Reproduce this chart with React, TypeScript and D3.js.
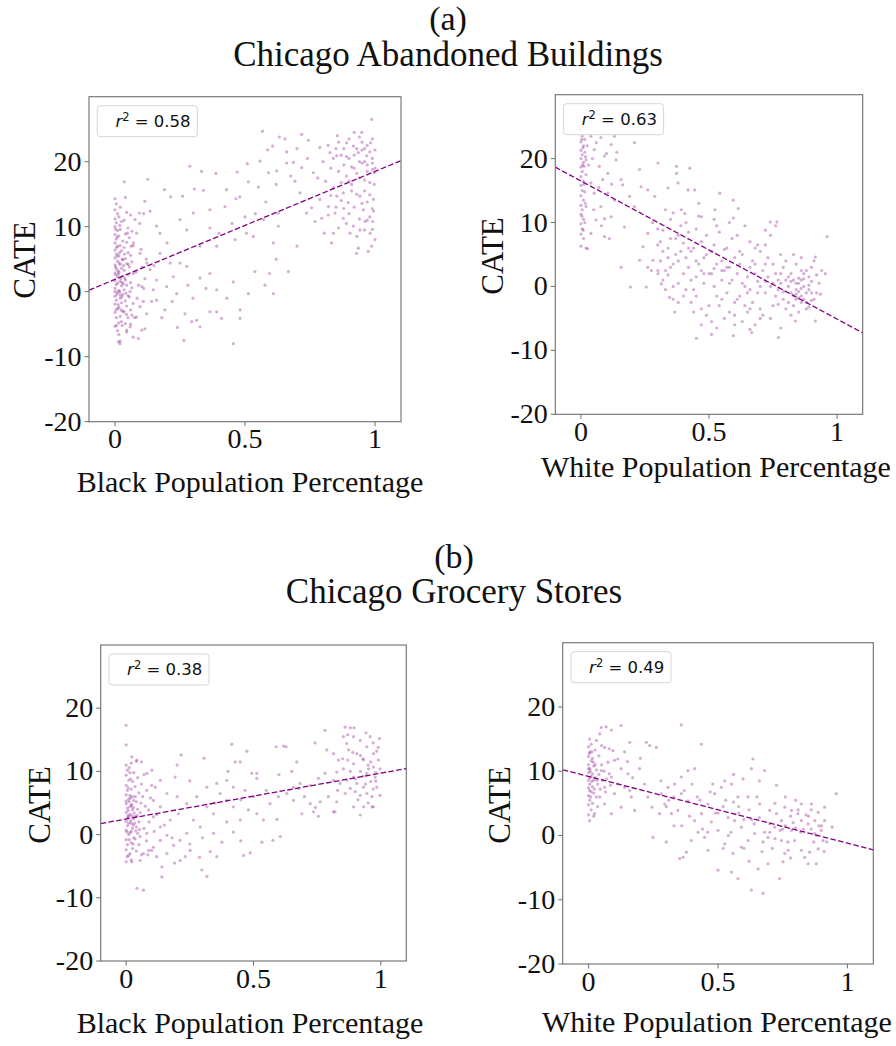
import React from "react";
import * as d3 from "d3";

// ---------- data ----------
const xTicks = [0, 0.5, 1];
const xTickLabels = ["0", "0.5", "1"];
const yTicks = [-20, -10, 0, 10, 20];
const yTickLabels = ["-20", "-10", "0", "10", "20"];
const xDomain = [-0.1, 1.1];
const yDomain = [-20, 30];

const groupLabels = ["(a)", "(b)"];
const groupTitles = ["Chicago Abandoned Buildings", "Chicago Grocery Stores"];
const xAxisLabels = [
  "Black Population Percentage",
  "White Population Percentage",
  "Black Population Percentage",
  "White Population Percentage",
];
const yAxisLabel = "CATE";
const r2Values = ["0.58", "0.63", "0.38", "0.49"];
const fitIntercepts = [1.9, 16.5, 2.47, 9.19];
const fitSlopes = [16.6, -21.6, 7.25, -10.38];

// Chicago Abandoned Buildings vs Black population share
const abandonedBlack = [
  [0.567,24.7],[0.632,23.8],[0.654,23.5],[0.718,24.2],[0.744,23.3],[0.987,26.5],[0.949,24.5],[0.855,24.0],[0.606,22.4],[0.587,21.8],
  [0.288,19.3],[0.333,18.5],[0.388,18.2],[0.47,18.4],[0.509,19.7],[0.558,20.1],[0.036,16.9],[0.126,17.3],[0.19,15.7],[0.214,14.6],
  [0.305,15.8],[0.34,15.6],[0.429,15.7],[0.465,14.3],[0.48,14.6],[0.513,16.9],[0.551,16.1],[0.59,18.3],[0.622,18.6],[0.66,19.8],
  [0.676,17.8],[0.686,19.9],[0.692,17.0],[0.718,19.1],[0.763,18.3],[0.788,22.2],[0.827,21.4],[0.853,20.9],[0.891,22.9],[0.917,22.4],
  [0.936,21.4],[0.968,20.9],[0.983,22.9],[0.99,19.8],[0.997,18.3],[0.997,16.5],[0.994,14.2],[0.994,12.4],[0.991,10.8],[0.981,9.0],
  [0.987,7.0],[1.0,8.0],[0.974,6.2],[0.936,6.7],[0.929,5.9],[0.904,9.0],[0.917,10.1],[0.878,11.3],[0.897,13.7],[0.84,9.0],
  [0.833,7.5],[0.805,9.0],[0.769,10.8],[0.795,11.3],[0.846,12.1],[0.821,13.1],[0.853,14.7],[0.878,15.2],[0.91,15.5],[0.942,14.7],
  [0.955,12.6],[0.962,10.8],[0.942,9.5],[0.756,12.9],[0.737,12.1],[0.788,14.2],[0.712,15.2],[0.628,12.1],[0.609,7.5],[0.628,10.1],
  [0.571,11.1],[0.532,8.5],[0.506,9.0],[0.462,8.0],[0.391,7.0],[0.365,9.8],[0.327,7.0],[0.276,9.5],[0.25,11.1],[0.173,9.0],
  [0.16,10.1],[0.115,13.9],[0.135,12.4],[0.094,12.1],[0.077,11.1],[0.301,12.1],[0.365,12.6],[0.423,13.1],[0.26,14.7],[0.538,3.1],
  [0.667,3.1],[0.594,2.8],[0.577,1.0],[0.609,-0.3],[0.481,-2.8],[0.455,1.5],[0.391,0.3],[0.365,2.8],[0.327,2.1],[0.276,3.9],
  [0.25,4.4],[0.224,2.3],[0.199,0.8],[0.192,-2.8],[0.16,-1.3],[0.147,0.3],[0.237,-0.3],[0.269,-3.4],[0.295,-4.6],[0.314,-4.4],
  [0.327,-5.4],[0.265,-7.5],[0.365,-3.1],[0.391,-3.1],[0.41,-4.1],[0.455,-8.0],[0.481,-4.1],[0.513,-0.3],[0.07,-7.0],[0.09,-7.2],
  [0.103,-5.9],[0.115,-5.7],[0.013,-7.7],[0.019,-8.0],[0.058,-5.4],[0.045,-5.9],[0.006,-5.2],[0.122,-3.4],[0.141,-1.5],[0.096,-2.3],
  [0.083,-3.9],[0.109,-1.5],[0.103,0.8],[0.16,1.8],[0.135,3.4],[0.173,5.9],[0.212,4.4],[0.122,4.4],[0.096,5.9],[0.083,9.0],[0.071,7.5],
  [0.0,14.3],[0.005,13.5],[0.0,12.6],[0.01,12.0],[0.0,11.2],[0.005,10.6],[0.0,10.0],[0.01,9.4],[0.0,8.8],[0.005,8.1],
  [0.0,7.5],[0.01,7.0],[0.0,6.4],[0.005,5.8],[0.0,5.2],[0.01,4.7],[0.0,4.1],[0.005,3.5],[0.0,2.9],[0.01,2.3],
  [0.0,1.7],[0.005,1.1],[0.0,0.5],[0.01,-0.1],[0.0,-0.7],[0.005,-1.3],[0.0,-1.9],[0.01,-2.6],[0.0,-3.2],[0.005,-4.0],
  [0.0,-5.3],[0.01,-6.0],[0.02,13.0],[0.015,11.5],[0.025,10.8],[0.02,9.6],[0.015,8.6],[0.03,7.8],[0.02,7.1],[0.025,6.3],
  [0.015,5.5],[0.03,4.9],[0.02,4.2],[0.025,3.6],[0.015,3.0],[0.03,2.4],[0.02,1.6],[0.025,0.9],[0.015,0.2],[0.03,-0.4],
  [0.02,-1.0],[0.025,-1.7],[0.015,-2.4],[0.03,-3.0],[0.02,-3.8],[0.025,-4.6],[0.015,-6.6],[0.02,-7.6],[0.04,14.5],[0.045,12.2],
  [0.035,11.0],[0.05,9.8],[0.04,8.9],[0.045,7.6],[0.035,6.8],[0.05,6.0],[0.04,5.1],[0.045,4.3],[0.035,3.3],[0.05,2.6],
  [0.04,1.8],[0.045,1.0],[0.035,0.3],[0.05,-0.6],[0.04,-1.4],[0.045,-2.2],[0.035,-3.1],[0.05,-4.0],[0.04,-4.9],[0.045,-6.2],
  [0.06,11.8],[0.065,9.3],[0.055,8.3],[0.07,7.1],[0.06,5.6],[0.065,4.6],[0.055,3.8],[0.07,2.8],[0.06,1.4],[0.065,0.6],
  [0.055,-0.8],[0.07,-1.8],[0.06,-2.8],[0.065,-3.6],[0.06,-5.0],[0.008,5.5],[0.012,3.2],[0.018,0.0],[0.022,2.0],[0.028,5.0],
  [0.01,1.3],[0.003,2.6],[0.027,-0.8],[0.012,-2.0],[0.032,1.2],[0.006,6.8],[0.02,-0.5],[0.038,2.1],[0.016,4.4],[0.042,-0.2],
  [0.08,3.0],[0.09,1.0],[0.1,6.5],[0.11,0.5],[0.085,-1.0],[0.095,10.5],[0.105,3.8],[0.115,2.0],[0.075,-4.0],[0.12,5.0],[0.11,12.0],
  [0.85,22.0],[0.87,21.0],[0.88,19.5],[0.9,20.5],[0.92,19.0],[0.93,22.0],[0.95,23.0],[0.96,20.0],[0.97,18.5],[0.98,21.5],
  [0.99,23.5],[0.94,17.5],[0.91,16.5],[0.89,17.8],[0.86,18.5],[0.84,16.0],[0.83,19.0],[0.96,15.5],[0.98,16.8],[0.99,20.5],
  [0.97,22.5],[0.95,19.8],[0.93,15.0],[0.92,13.0],[0.98,11.5],[0.96,9.5],[0.94,11.2],[0.9,12.0],[0.87,14.0],[0.99,12.8],
  [1.0,19.0],[1.0,21.8],[0.97,13.8],[0.82,22.5],[0.8,20.0],[0.78,17.5],
  [0.84,20.5],[0.86,23.0],[0.88,22.0],[0.9,23.5],[0.92,21.0],[0.94,20.0],[0.95,21.8],[0.97,19.5],[0.99,18.8],[0.96,17.2],
  [0.93,18.2],[0.91,19.2],[0.89,20.8],[0.87,16.8],[0.85,13.0],[0.83,14.8],[0.81,17.0],[0.95,13.6],[0.97,11.0],[0.99,9.6],
  [0.93,8.5],[0.89,10.5],[0.86,9.8],[0.82,11.8],[0.98,14.9],[0.96,22.0],[0.94,23.8],[0.92,24.5],[0.9,17.0],[0.88,12.8],
  [0.7,22.0],[0.74,20.5],[0.66,21.5],[0.62,16.5],[0.58,13.8],[0.54,12.0],[0.5,11.5],[0.45,10.5],[0.4,9.0],[0.2,7.5],
  [0.22,-1.5],[0.3,-1.0],[0.35,0.5],[0.43,-1.0],[0.28,1.0],[0.18,-4.0],[0.24,-5.5],[0.15,4.0],[0.62,5.0],[0.7,7.0],
  [0.0,0.0],[0.003,3.8],[0.007,-0.4],[0.013,2.7],[0.017,6.0],[0.023,-2.8],[0.027,1.4],[0.033,4.0],[0.008,8.4],[0.018,10.2],
  [0.028,-5.2],[0.004,-2.8],[0.036,5.8],[0.044,-3.5],[0.052,4.2],[0.058,0.0],[0.062,7.0],[0.048,9.0],[0.014,-4.8],[0.002,9.6],
];

// Chicago Abandoned Buildings vs White population share
const abandonedWhite = [
  [0.0,24.5],[0.005,23.5],[0.0,22.6],[0.01,22.0],[0.0,21.3],[0.005,20.6],[0.0,20.0],[0.01,19.4],[0.0,18.7],[0.005,18.0],
  [0.0,17.2],[0.01,16.5],[0.0,15.8],[0.005,15.0],[0.0,14.2],[0.01,13.5],[0.0,12.7],[0.005,12.0],[0.0,11.3],[0.01,10.5],
  [0.0,9.8],[0.005,9.0],[0.0,8.2],[0.01,7.5],[0.0,6.3],[0.015,21.0],[0.02,19.8],[0.015,23.0],[0.02,17.5],[0.015,14.8],
  [0.02,12.5],[0.015,10.0],[0.02,6.0],[0.012,18.8],[0.008,21.7],[0.018,20.3],
  [0.039,23.5],[0.078,23.3],[0.052,21.4],[0.092,20.4],[0.118,22.2],[0.131,23.5],[0.137,19.8],[0.072,18.8],[0.105,17.7],[0.039,16.2],
  [0.085,16.7],[0.157,16.7],[0.163,15.9],[0.052,14.6],[0.105,14.6],[0.131,13.5],[0.078,12.5],[0.118,10.9],[0.059,10.4],[0.039,8.3],
  [0.092,7.8],[0.026,5.9],[0.157,3.0],[0.193,-0.1],[0.255,-0.1],[0.209,22.5],[0.092,10.6],[0.111,7.5],[0.17,9.3],[0.19,14.1],
  [0.209,12.5],[0.229,18.3],[0.235,15.6],[0.261,15.1],[0.301,19.3],[0.373,18.8],[0.373,17.7],[0.425,18.5],[0.379,16.2],[0.418,15.1],
  [0.444,15.1],[0.34,15.4],[0.288,14.1],[0.542,14.6],[0.595,13.5],[0.614,12.2],[0.523,12.0],[0.595,10.7],[0.392,12.0],[0.405,11.4],
  [0.471,10.9],[0.739,10.1],[0.765,10.1],[0.961,7.8],[0.915,4.6],[0.954,2.0],[0.935,-1.2],[0.915,-5.4],[0.837,-5.4],[0.771,-8.0],
  [0.667,-7.2],[0.66,-6.7],[0.595,-7.7],[0.51,-7.5],[0.451,-8.1],[0.366,-4.0],[0.346,-1.7],[0.314,0.4],[0.261,3.0],[0.229,4.1],
  [0.242,6.2],[0.261,8.3],[0.281,4.1],[0.301,2.0],[0.275,2.5],
  [0.3,6.5],[0.31,4.0],[0.32,8.8],[0.33,2.5],[0.34,6.0],[0.35,10.5],[0.36,3.5],[0.37,7.5],[0.38,0.5],[0.39,5.5],
  [0.3,9.0],[0.32,1.0],[0.34,4.5],[0.36,11.5],[0.38,8.0],[0.4,2.0],[0.33,-0.5],[0.37,5.0],[0.35,3.0],[0.31,7.0],
  [0.39,9.5],[0.4,6.8],[0.36,0.0],[0.38,-2.5],[0.34,1.8],
  [0.41,4.5],[0.42,8.5],[0.43,1.0],[0.44,6.0],[0.45,-1.5],[0.46,3.5],[0.47,7.0],[0.48,0.5],[0.49,5.0],[0.5,-3.0],
  [0.41,10.0],[0.43,-2.5],[0.45,9.0],[0.47,2.5],[0.49,-4.5],[0.42,3.0],[0.44,-0.5],[0.46,11.0],[0.48,4.5],[0.5,2.0],
  [0.45,1.5],[0.43,5.5],[0.47,-3.5],[0.41,-0.5],[0.49,8.0],
  [0.51,5.5],[0.52,0.0],[0.53,3.5],[0.54,8.5],[0.55,-2.0],[0.56,2.5],[0.57,6.0],[0.58,-4.0],[0.59,1.0],[0.6,4.5],
  [0.51,-5.5],[0.53,9.5],[0.55,4.0],[0.57,-1.0],[0.59,7.5],[0.52,2.8],[0.54,-3.0],[0.56,5.8],[0.58,0.5],[0.6,-2.5],
  [0.55,1.0],[0.53,-1.5],[0.57,3.0],[0.6,-6.0],[0.51,2.0],
  [0.61,2.0],[0.62,-1.5],[0.63,5.0],[0.64,0.0],[0.65,-4.0],[0.66,3.0],[0.67,-2.5],[0.68,6.0],[0.69,0.8],[0.7,-3.5],
  [0.61,8.0],[0.63,-5.5],[0.65,1.5],[0.67,4.0],[0.69,-1.0],[0.62,3.5],[0.64,-3.0],[0.66,-0.5],[0.68,2.0],[0.7,5.5],
  [0.63,0.5],[0.66,7.0],[0.68,-6.0],[0.7,0.0],[0.61,-2.0],
  [0.71,2.5],[0.72,-1.0],[0.73,4.5],[0.74,0.0],[0.75,-3.0],[0.76,2.0],[0.77,-0.5],[0.78,5.0],[0.79,-2.0],[0.8,1.0],
  [0.71,-4.5],[0.73,1.5],[0.75,3.5],[0.77,-2.8],[0.79,3.0],[0.72,6.5],[0.74,-5.0],[0.76,-1.5],[0.78,0.5],[0.8,-3.5],
  [0.74,8.0],[0.76,9.5],[0.78,-6.5],[0.72,0.8],[0.8,4.0],
  [0.81,0.0],[0.82,-1.0],[0.83,1.0],[0.84,-2.0],[0.85,0.5],[0.86,-1.5],[0.87,0.0],[0.88,-2.5],[0.89,1.5],[0.9,-1.0],
  [0.81,-2.5],[0.82,2.0],[0.83,-3.0],[0.84,0.5],[0.85,-0.8],[0.86,1.0],[0.87,-2.0],[0.88,2.5],[0.89,-0.5],[0.9,0.8],
  [0.91,-2.0],[0.92,1.8],[0.84,3.5],[0.86,4.5],[0.88,-3.5],[0.9,3.0],[0.92,-1.0],[0.85,-4.0],[0.83,5.0],[0.87,2.0],
  [0.82,-4.5],[0.89,-3.2],[0.91,4.0],[0.93,0.5],[0.94,2.5],[0.86,-0.3],[0.84,-1.2],[0.85,1.3],
  [0.003,23.0],[0.007,19.0],[0.012,16.0],[0.017,13.0],[0.004,11.0],[0.009,8.8],[0.025,22.0],[0.03,19.0],[0.045,20.0],[0.06,22.5],
  [0.07,15.5],[0.1,20.8],[0.12,16.0],[0.14,21.0],[0.05,12.0],[0.08,9.5],
  [0.32,5.5],[0.35,7.5],[0.38,4.0],[0.42,6.0],[0.45,4.0],[0.48,2.0],[0.52,6.5],[0.55,2.5],[0.58,3.0],[0.62,5.5],
  [0.65,-1.0],[0.68,3.5],[0.72,3.5],[0.75,0.5],[0.78,2.0],[0.82,0.8],[0.84,-0.5],[0.86,-2.5],[0.87,1.2],[0.88,-1.0],
  [0.85,-1.8],[0.83,-1.5],[0.86,2.5],[0.89,0.2],[0.9,-2.2],[0.81,1.5],[0.79,-0.8],[0.77,1.0],[0.7,-5.0],[0.66,-3.5],
  [0.6,-4.5],[0.56,-5.0],[0.53,-6.5],[0.47,-6.0],[0.44,-4.0],[0.4,-1.5],[0.36,-2.0],[0.3,2.5],[0.28,10.0],[0.33,12.0],
  [0.46,13.0],[0.52,10.5],[0.58,10.0],[0.64,9.5],[0.69,6.5],[0.72,8.8],
];

// Chicago Grocery Stores vs Black population share
const groceryBlack = [
  [0.0,17.3],[0.0,14.2],[0.068,-8.8],[0.042,-8.5],[0.14,-6.7],[0.14,-5.1],[0.297,-5.6],[0.317,-6.6],[0.19,-4.5],[0.212,-4.1],
  [0.288,-3.6],[0.356,-3.5],[0.461,-3.3],[0.487,-2.9],[0.533,-1.2],[0.576,-0.9],[0.605,-0.3],[0.592,2.4],[0.216,12.6],[0.306,12.1],
  [0.415,14.3],[0.474,13.2],[0.428,11.5],[0.448,11.5],[0.493,9.7],[0.513,9.7],[0.513,8.9],[0.589,13.9],[0.618,14.0],[0.628,13.9],
  [0.67,11.5],[0.742,14.5],[0.781,16.5],[0.86,17.0],[0.88,16.9],[0.895,16.9],[0.942,16.1],[0.995,15.2],[0.853,15.5],[0.736,3.6],
  [0.755,2.9],[0.82,3.6],[0.919,3.1],[0.965,4.4],[0.997,6.2],[0.932,7.5],[0.88,7.3],[0.827,5.2],[0.794,6.0],[0.762,5.2],
  [0.723,4.9],[0.69,3.3],[0.657,5.4],[0.631,6.5],[0.677,7.3],[0.723,7.8],[0.755,8.9],[0.781,9.7],[0.827,9.9],[0.853,10.4],
  [0.834,11.8],[0.874,13.4],[0.906,12.8],[0.919,14.9],[0.945,13.9],[0.971,12.8],[0.99,11.8],[0.997,10.4],[0.978,9.1],[0.952,10.4],
  [0.932,11.8],[0.893,11.2],[0.893,9.1],[0.906,8.1],[0.866,8.6],[0.84,8.1],[0.814,8.6],[0.965,6.0],[0.984,7.5],[0.945,6.5],
  [0.919,6.2],[0.971,4.4],[0.932,4.4],[0.893,4.4],[0.814,3.6],[0.743,4.3],[0.945,9.7],[0.971,10.7],[0.984,13.2],[0.958,15.5],
  [0.893,15.5],[0.866,14.4],[0.814,12.8],[0.788,13.4],[0.96,8.4],[0.92,10.0],[0.95,11.0],[0.98,9.8],[0.9,6.8],[0.87,11.8],
  [0.291,1.2],[0.343,3.3],[0.395,5.4],[0.421,7.5],[0.369,6.5],[0.317,4.4],[0.264,2.3],[0.238,0.2],[0.212,-0.9],[0.186,-1.7],
  [0.16,-0.1],[0.173,2.3],[0.205,3.3],[0.238,4.9],[0.277,6.0],[0.317,7.5],[0.356,8.1],[0.395,8.6],[0.343,0.2],[0.376,-1.2],
  [0.421,0.4],[0.448,2.3],[0.48,3.9],[0.513,3.3],[0.539,2.3],[0.565,4.9],[0.598,6.0],[0.657,7.5],[0.683,8.1],[0.5,6.0],
  [0.467,7.0],[0.421,4.4],[0.395,2.0],[0.33,-2.7],[0.251,-2.5],[0.232,-3.5],[0.16,-3.0],[0.12,-3.5],[0.107,-2.0],[0.134,-0.9],
  [0.134,1.2],[0.107,2.8],[0.134,4.4],[0.107,5.4],[0.16,6.5],[0.134,8.6],[0.192,9.1],[0.101,10.2],[0.081,9.7],[0.114,7.5],
  [0.081,7.0],[0.088,3.9],[0.081,0.2],[0.088,-2.5],[0.068,-3.0],[0.055,-4.1],[0.022,-4.3],[0.022,12.3],[0.042,11.8],
  [0.0,11.0],[0.005,10.2],[0.0,9.4],[0.01,8.6],[0.0,7.8],[0.005,7.0],[0.0,6.3],[0.01,5.6],[0.0,4.9],[0.005,4.2],
  [0.0,3.5],[0.01,2.8],[0.0,2.1],[0.005,1.4],[0.0,0.7],[0.01,0.0],[0.0,-0.8],[0.005,-1.6],[0.0,-2.4],[0.01,-3.3],[0.0,-4.3],
  [0.02,11.3],[0.015,9.8],[0.025,8.4],[0.02,7.2],[0.015,6.2],[0.03,5.4],[0.02,4.6],[0.025,3.9],[0.015,3.2],[0.03,2.5],
  [0.02,1.8],[0.025,1.0],[0.015,0.3],[0.03,-0.5],[0.02,-1.3],[0.025,-2.2],[0.015,-3.0],[0.02,-4.0],
  [0.04,11.6],[0.045,9.0],[0.035,7.6],[0.05,6.6],[0.04,5.2],[0.045,4.0],[0.035,2.9],[0.05,2.0],[0.04,1.2],[0.045,0.2],
  [0.035,-0.7],[0.05,-1.6],[0.04,-2.6],[0.06,-3.2],[0.055,3.5],[0.06,8.0],[0.055,-0.3],
  [0.008,3.8],[0.012,5.2],[0.018,2.2],[0.022,4.8],[0.028,1.5],[0.005,2.6],[0.032,3.4],[0.015,4.4],[0.025,6.0],[0.038,0.6],
  [0.01,1.8],[0.02,0.5],[0.065,6.0],[0.07,1.0],[0.075,4.5],[0.08,-1.0],[0.09,2.0],[0.095,5.8],[0.1,-2.5],[0.11,0.5],
  [0.12,3.2],[0.07,9.5],[0.085,-3.2],[0.1,7.8],[0.06,11.5],
  [0.85,12.0],[0.88,10.0],[0.9,8.8],[0.92,12.5],[0.94,8.0],[0.96,11.5],[0.98,8.5],[0.99,13.8],[0.86,6.5],[0.91,5.5],
  [0.95,5.0],[0.97,14.5],[0.93,9.2],[0.89,13.0],[0.83,7.0],[0.87,15.8],[0.93,12.0],[0.97,7.2],
  [0.0,5.3],[0.003,0.4],[0.007,3.0],[0.012,-0.8],[0.017,5.8],[0.022,3.0],[0.027,-1.5],[0.033,1.8],[0.008,7.4],[0.018,8.8],
  [0.028,4.3],[0.004,-3.5],[0.036,6.0],[0.044,3.0],[0.052,0.8],[0.058,5.0],[0.03,9.8],[0.012,10.6],
  [0.2,6.0],[0.25,8.5],[0.3,-0.5],[0.35,5.0],[0.4,10.0],[0.45,5.5],[0.55,7.0],[0.6,9.5],[0.65,10.0],[0.7,6.0],
  [0.25,-1.5],[0.15,1.5],[0.18,-0.5],[0.45,-1.0],[0.2,11.0],
];

// Chicago Grocery Stores vs White population share
const groceryWhite = [
  [0.004,15.0],[0.03,14.8],[0.049,16.8],[0.068,16.9],[0.088,16.4],[0.126,17.1],[0.043,15.8],[0.062,13.7],[0.094,13.2],[0.113,11.9],
  [0.1,11.7],[0.159,14.5],[0.139,13.0],[0.358,17.2],[0.436,14.2],[0.223,14.5],[0.236,14.0],[0.262,13.7],[0.126,10.4],[0.152,9.6],
  [0.139,7.5],[0.165,6.0],[0.178,3.9],[0.126,4.4],[0.1,6.5],[0.088,3.4],[0.062,4.9],[0.043,6.0],[0.023,3.4],[0.004,2.3],
  [0.062,7.5],[0.088,9.1],[0.049,10.1],[0.113,8.0],[0.159,7.0],[0.197,10.4],[0.216,8.0],[0.229,6.0],[0.245,4.4],[0.249,-0.3],
  [0.3,-1.0],[0.352,-3.6],[0.365,-3.4],[0.378,-2.6],[0.274,3.4],[0.294,4.9],[0.281,6.5],[0.307,7.5],[0.332,8.0],[0.358,9.1],
  [0.384,10.1],[0.41,10.4],[0.358,6.5],[0.384,5.4],[0.345,3.9],[0.32,3.4],[0.41,2.3],[0.436,3.4],[0.461,4.9],[0.487,6.5],
  [0.513,7.5],[0.526,8.5],[0.5,-5.4],[0.552,-5.7],[0.577,-6.7],[0.629,-8.5],[0.674,-9.0],[0.738,-6.7],[0.655,-5.2],[0.693,-4.4],
  [0.751,-4.1],[0.848,-4.4],[0.88,-4.4],[0.957,6.5],[0.912,4.4],[0.941,1.3],[0.906,-0.8],[0.887,-2.1],[0.854,-2.6],[0.635,11.9],
  [0.68,10.1],[0.726,7.8],[0.629,10.4],[0.597,8.8],[0.552,8.0],[0.577,6.0],[0.616,6.0],[0.661,4.9],[0.70,3.9],[0.726,3.4],
  [0.758,4.4],[0.784,3.9],[0.809,3.4],[0.822,2.3],[0.848,1.8],[0.874,2.3],[0.887,3.6],[0.861,4.9],[0.822,4.9],[0.745,2.3],
  [0.719,1.3],[0.693,-0.3],[0.674,-1.0],[0.642,0.3],[0.616,-0.8],[0.59,-1.8],[0.558,-2.8],[0.526,-1.3],[0.5,0.8],[0.474,2.1],
  [0.448,-0.3],[0.423,0.5],[0.397,-0.8],[0.461,-2.3],[0.539,2.8],[0.564,2.3],[0.59,1.3],[0.796,-0.8],[0.822,-2.3],[0.835,-3.4],
  [0.771,-2.3],[0.745,-0.8],[0.784,0.8],[0.758,-2.8],[0.874,0.3],[0.899,0.8],[0.912,2.3],
  [0.31,5.5],[0.33,1.5],[0.37,7.0],[0.39,3.0],[0.42,6.0],[0.44,1.0],[0.47,6.8],[0.49,3.5],[0.52,4.5],[0.54,0.0],
  [0.56,5.2],[0.58,3.5],[0.6,2.5],[0.62,4.0],[0.64,1.8],[0.66,2.8],[0.68,0.5],[0.7,1.8],[0.72,-0.5],[0.74,0.8],
  [0.76,1.5],[0.78,3.0],[0.8,1.2],[0.82,0.5],[0.84,3.2],[0.86,1.0],[0.88,0.0],[0.9,1.5],[0.92,-1.0],[0.8,5.5],
  [0.0,13.8],[0.005,13.0],[0.0,12.3],[0.01,11.6],[0.0,11.0],[0.005,10.4],[0.0,9.8],[0.01,9.2],[0.0,8.6],[0.005,8.0],
  [0.0,7.4],[0.01,6.8],[0.0,6.2],[0.005,5.5],[0.0,4.8],[0.01,4.0],[0.0,3.2],[0.015,12.0],[0.02,10.8],[0.015,9.6],
  [0.02,8.6],[0.015,7.6],[0.02,6.6],[0.015,5.0],[0.025,9.0],[0.03,10.2],[0.035,8.0],[0.03,6.0],[0.04,9.5],[0.045,7.2],
  [0.05,11.0],[0.055,8.6],[0.06,10.0],[0.065,6.8],[0.07,8.8],[0.075,11.4],[0.08,9.6],[0.085,7.8],[0.04,12.4],[0.025,13.3],
  [0.01,14.2],[0.035,4.5],[0.02,3.0],
  [0.003,12.8],[0.007,10.0],[0.012,8.4],[0.008,6.0],[0.0,10.4],[0.005,9.0],[0.018,11.4],[0.022,7.2],[0.004,7.0],[0.013,13.0],
  [0.026,11.0],[0.032,8.6],
  [0.28,8.5],[0.3,4.5],[0.33,6.0],[0.36,1.5],[0.4,8.0],[0.43,5.5],[0.46,0.5],[0.5,3.5],[0.53,5.5],[0.55,0.5],
  [0.58,4.5],[0.6,-2.0],[0.63,2.5],[0.65,6.0],[0.67,-2.5],[0.7,0.5],[0.72,5.0],[0.75,1.0],[0.77,-1.0],[0.79,2.0],
  [0.81,4.0],[0.83,1.0],[0.85,3.0],[0.87,-1.0],[0.89,1.5],[0.91,-2.5],[0.78,-3.5],[0.71,-2.0],[0.62,-4.0],[0.52,-2.0],
  [0.48,8.0],[0.56,9.5],[0.66,8.5],[0.76,6.0],[0.86,4.0],[0.2,12.0],[0.17,9.0],[0.15,11.5],[0.05,14.0],[0.08,13.5],
];

const panelData = [abandonedBlack, abandonedWhite, groceryBlack, groceryWhite];

// ---------- layout ----------
const panelBoxes = [
  { left: 89, right: 401, top: 96.7, bottom: 421.7, xlx: 250, xly: 491.7, ylx: 35, yly: 260 },
  { left: 555.3, right: 862.7, top: 94.7, bottom: 414.3, xlx: 716, xly: 476.7, ylx: 503, yly: 256 },
  { left: 100.7, right: 406.3, top: 645, bottom: 961, xlx: 250, xly: 1033, ylx: 50, yly: 805 },
  { left: 562.7, right: 873.3, top: 642.7, bottom: 964, xlx: 717, xly: 1031.7, ylx: 509.7, yly: 805 },
];
const titleLayout = [
  { x: 448, labelY: 30, titleY: 65.5 },
  { x: 454, labelY: 567.5, titleY: 603 },
];

const SERIF = "'Liberation Serif', 'Times New Roman', serif";
const SANS = "'DejaVu Sans', sans-serif";
const PURPLE = "#800080";
const FRAME = "#6e6e6e";

function Panel({ idx }: { idx: number }) {
  const b = panelBoxes[idx];
  const x = d3.scaleLinear().domain(xDomain).range([b.left, b.right]);
  const y = d3.scaleLinear().domain(yDomain).range([b.bottom, b.top]);
  const pts = panelData[idx];
  const fit = d3
    .line<number>()
    .x((v) => x(v))
    .y((v) => y(fitIntercepts[idx] + fitSlopes[idx] * v));
  const lx = b.left + 8.3;
  const ly = b.top + 9;
  return (
    <g>
      <g>
        {pts.map((p, i) => (
          <circle key={i} cx={x(p[0])} cy={y(p[1])} r={1.6} fill={PURPLE} fillOpacity={0.32} />
        ))}
      </g>
      <path d={fit(xDomain) || ""} fill="none" stroke={PURPLE} strokeWidth={1.3} strokeDasharray="5.5,2.4" />
      <rect x={b.left} y={b.top} width={b.right - b.left} height={b.bottom - b.top} fill="none" stroke={FRAME} strokeWidth={1.1} />
      {xTicks.map((t, i) => (
        <g key={"xt" + i}>
          <line x1={x(t)} x2={x(t)} y1={b.bottom} y2={b.bottom + 4.5} stroke={FRAME} strokeWidth={1} />
          <text x={x(t)} y={b.bottom + 26.5} textAnchor="middle" fontFamily={SERIF} fontSize={28} fill="#111">
            {xTickLabels[i]}
          </text>
        </g>
      ))}
      {yTicks.map((t, i) => (
        <g key={"yt" + i}>
          <line x1={b.left - 4.5} x2={b.left} y1={y(t)} y2={y(t)} stroke={FRAME} strokeWidth={1} />
          <text x={b.left - 7.5} y={y(t) + 9} textAnchor="end" fontFamily={SERIF} fontSize={28} fill="#111">
            {yTickLabels[i]}
          </text>
        </g>
      ))}
      <text x={b.xlx} y={b.xly} textAnchor="middle" fontFamily={SERIF} fontSize={30} fill="#111">
        {xAxisLabels[idx]}
      </text>
      <text
        transform={`translate(${b.ylx},${b.yly}) rotate(-90)`}
        textAnchor="middle"
        fontFamily={SERIF}
        fontSize={31}
        fill="#111"
      >
        {yAxisLabel}
      </text>
      <rect x={lx} y={ly} width={100} height={31} rx={3} ry={3} fill="#fff" fillOpacity={0.8} stroke="#d5d5d5" strokeWidth={1} />
      <text x={lx + 93.3} y={ly + 21.3} textAnchor="end" fontFamily={SANS} fontSize={16.5} fill="#111">
        <tspan fontStyle="italic">r</tspan>
        <tspan dy={-6.5} fontSize={11.5}>2</tspan>
        <tspan dy={6.5}>{" = " + r2Values[idx]}</tspan>
      </text>
    </g>
  );
}

export default function App() {
  return (
    <svg
      width={896}
      height={1046}
      viewBox="0 0 896 1046"
      style={{ position: "absolute", left: 0, top: 0, background: "#fff", display: "block" }}
    >
      <rect x={0} y={0} width={896} height={1046} fill="#fff" />
      {titleLayout.map((t, i) => (
        <g key={"t" + i}>
          <text x={t.x} y={t.labelY} textAnchor="middle" fontFamily={SERIF} fontSize={34} fill="#111">
            {groupLabels[i]}
          </text>
          <text x={t.x} y={t.titleY} textAnchor="middle" fontFamily={SERIF} fontSize={35} fill="#111">
            {groupTitles[i]}
          </text>
        </g>
      ))}
      {panelBoxes.map((_, i) => (
        <Panel key={i} idx={i} />
      ))}
    </svg>
  );
}
